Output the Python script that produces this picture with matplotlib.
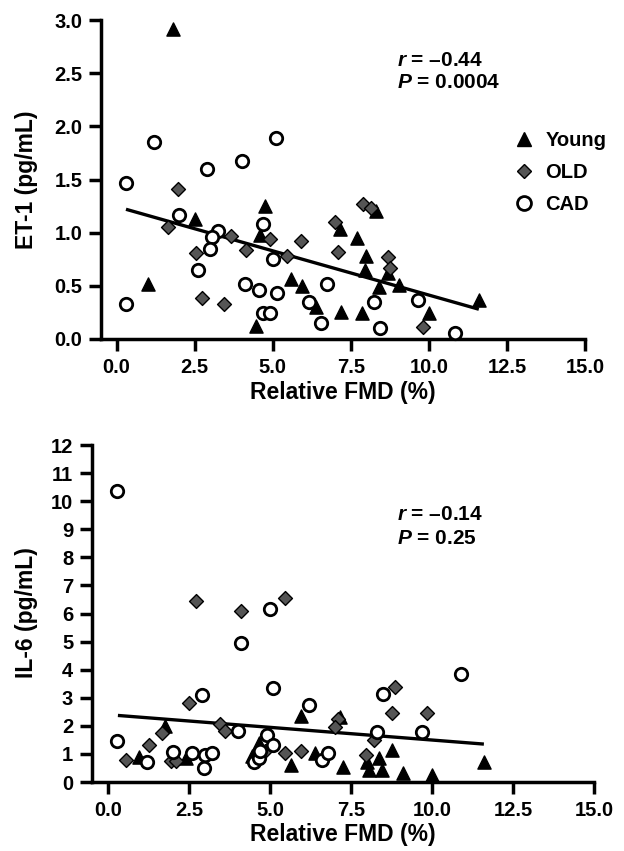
import matplotlib

matplotlib.use("Agg")
import matplotlib.pyplot as plt
from matplotlib.lines import Line2D

plt.rcParams["font.family"] = ["Liberation Sans", "DejaVu Sans"]
plt.rcParams["font.weight"] = "bold"
plt.rcParams["mathtext.fontset"] = "custom"
plt.rcParams["mathtext.it"] = "Liberation Sans:style=italic:weight=bold"
plt.rcParams["mathtext.rm"] = "Liberation Sans:weight=bold"

# ---------------------------------------------------------------------------
# Data
# ---------------------------------------------------------------------------

# ET-1 vs relative FMD
et1_young_x = [1.8, 1.0, 2.5, 4.75, 4.6, 4.45, 5.6, 5.95, 6.4, 7.2, 7.85, 7.15,
               7.7, 8.0, 7.95, 8.3, 8.4, 8.7, 9.05, 10.0, 11.6]
et1_young_y = [2.92, 0.52, 1.13, 1.25, 0.98, 0.12, 0.56, 0.50, 0.30, 0.25, 0.24, 1.03,
               0.95, 0.78, 0.65, 1.20, 0.49, 0.62, 0.51, 0.24, 0.37]
et1_old_x = [1.95, 1.65, 2.55, 2.75, 3.45, 3.65, 4.15, 4.9, 5.45, 5.9, 7.0, 7.1,
             7.9, 8.15, 8.7, 8.75, 9.8]
et1_old_y = [1.41, 1.05, 0.81, 0.39, 0.33, 0.97, 0.84, 0.94, 0.78, 0.92, 1.10, 0.82,
             1.27, 1.23, 0.77, 0.67, 0.11]
et1_cad_x = [0.3, 0.3, 1.2, 2.0, 2.9, 3.25, 3.05, 3.0, 2.6, 4.0, 5.1, 4.7, 5.0,
             4.1, 4.55, 5.15, 4.7, 4.9, 6.15, 6.55, 6.75, 8.25, 8.45, 9.65, 10.85]
et1_cad_y = [1.47, 0.33, 1.85, 1.17, 1.60, 1.02, 0.96, 0.85, 0.65, 1.67, 1.89, 1.08, 0.75,
             0.52, 0.46, 0.43, 0.24, 0.24, 0.35, 0.15, 0.52, 0.35, 0.10, 0.37, 0.06]
et1_fit_x = [0.3, 11.6]
et1_fit_y = [1.22, 0.28]

# IL-6 vs relative FMD
il6_young_x = [0.95, 1.75, 2.4, 4.45, 4.65, 5.65, 5.95, 6.4, 7.15, 7.25, 8.05, 8.0,
               8.35, 8.45, 8.75, 9.1, 10.0, 11.6]
il6_young_y = [0.9, 1.98, 0.85, 0.92, 1.38, 0.62, 2.35, 1.05, 2.3, 0.55, 0.43, 0.72,
               0.84, 0.43, 1.14, 0.31, 0.25, 0.7]
il6_old_x = [0.55, 1.25, 1.65, 1.95, 2.1, 2.7, 2.5, 3.45, 3.6, 4.1, 5.45, 5.45, 5.95,
             4.85, 7.1, 7.0, 8.2, 7.95, 8.85, 8.75, 9.85]
il6_old_y = [0.8, 1.32, 1.75, 0.75, 0.75, 6.45, 2.8, 2.05, 1.8, 6.1, 6.55, 1.02, 1.1,
             1.1, 2.25, 1.97, 1.5, 0.95, 3.4, 2.45, 2.45]
il6_cad_x = [0.27, 0.27, 1.2, 2.0, 2.6, 2.9, 3.0, 3.2, 2.95, 4.0, 4.1, 5.0, 5.1, 4.9,
             5.1, 4.5, 4.65, 4.7, 6.2, 6.6, 6.8, 8.3, 8.5, 9.7, 10.9]
il6_cad_y = [10.35, 1.45, 0.72, 1.08, 1.05, 3.1, 0.96, 1.02, 0.49, 1.82, 4.95, 6.15,
             3.35, 1.67, 1.32, 0.72, 0.85, 1.1, 2.75, 0.8, 1.02, 1.79, 3.15, 1.79, 3.85]
il6_fit_x = [0.3, 11.6]
il6_fit_y = [2.37, 1.35]

group_labels = ["Young", "OLD", "CAD"]
x_ticks = [0, 2.5, 5, 7.5, 10, 12.5, 15]
x_ticklabels = ["0.0", "2.5", "5.0", "7.5", "10.0", "12.5", "15.0"]
et1_ticks = [0, 0.5, 1.0, 1.5, 2.0, 2.5, 3.0]
et1_ticklabels = ["0.0", "0.5", "1.0", "1.5", "2.0", "2.5", "3.0"]
il6_ticks = list(range(0, 13))

# ---------------------------------------------------------------------------
# Styling
# ---------------------------------------------------------------------------

W, H = 624, 851
STYLES = {
    "Young": dict(marker="^", s=90, facecolor="black", edgecolor="black", linewidths=1.0),
    "OLD": dict(marker="D", s=50, facecolor="#555555", edgecolor="black", linewidths=1.0),
    "CAD": dict(marker="o", s=80, facecolor="white", edgecolor="black", linewidths=2.0),
}


def _px_axes(fig, left, right, top, bottom):
    return fig.add_axes([left / W, 1 - bottom / H, (right - left) / W, (bottom - top) / H])


def _style_axes(ax):
    for side in ("top", "right"):
        ax.spines[side].set_visible(False)
    for side in ("left", "bottom"):
        ax.spines[side].set_linewidth(2.5)
    ax.tick_params(width=2.5, length=8.5, labelsize=14.5, pad=5)
    for lab in ax.get_xticklabels() + ax.get_yticklabels():
        lab.set_fontweight("bold")


def _draw(ax, groups, fit_x, fit_y):
    ax.plot(fit_x, fit_y, color="black", lw=2.4, zorder=2, solid_capstyle="butt")
    for label, (xs, ys) in zip(group_labels, groups):
        ax.scatter(xs, ys, zorder=3, clip_on=False, **STYLES[label])


fig = plt.figure(figsize=(W / 100, H / 100), dpi=100)

# --- top panel: ET-1 ---
ax1 = _px_axes(fig, 101, 585, 20, 339)
_draw(ax1, [(et1_young_x, et1_young_y), (et1_old_x, et1_old_y), (et1_cad_x, et1_cad_y)],
      et1_fit_x, et1_fit_y)
ax1.set_xlim(-0.5, 15)
ax1.set_ylim(0, 3.0)
ax1.set_xticks(x_ticks)
ax1.set_xticklabels(x_ticklabels)
ax1.set_yticks(et1_ticks)
ax1.set_yticklabels(et1_ticklabels)
_style_axes(ax1)

# --- bottom panel: IL-6 ---
ax2 = _px_axes(fig, 92, 594, 445, 782)
_draw(ax2, [(il6_young_x, il6_young_y), (il6_old_x, il6_old_y), (il6_cad_x, il6_cad_y)],
      il6_fit_x, il6_fit_y)
ax2.set_xlim(-0.5, 15)
ax2.set_ylim(0, 12)
ax2.set_xticks(x_ticks)
ax2.set_xticklabels(x_ticklabels)
ax2.set_yticks(il6_ticks)
_style_axes(ax2)

# axis labels
lab_kw = dict(fontsize=16.5, fontweight="bold", ha="center", va="center")
fig.text(343 / W, 1 - 393 / H, "Relative FMD (%)", **lab_kw)
fig.text(343 / W, 1 - 835 / H, "Relative FMD (%)", **lab_kw)
fig.text(26 / W, 1 - 180 / H, "ET-1 (pg/mL)", rotation=90, **lab_kw)
fig.text(26 / W, 1 - 613 / H, "IL-6 (pg/mL)", rotation=90, **lab_kw)

# correlation annotations
ann_kw = dict(fontsize=15, fontweight="bold", ha="left", va="center")
fig.text(397 / W, 1 - 60 / H, "$r$ = \u20130.44", **ann_kw)
fig.text(397 / W, 1 - 83 / H, "$P$ = 0.0004", **ann_kw)
fig.text(397 / W, 1 - 515 / H, "$r$ = \u20130.14", **ann_kw)
fig.text(397 / W, 1 - 539 / H, "$P$ = 0.25", **ann_kw)

# legend
handles = [
    Line2D([], [], ls="none", marker="^", ms=10.5, mfc="black", mec="black"),
    Line2D([], [], ls="none", marker="D", ms=7.5, mfc="#555555", mec="black"),
    Line2D([], [], ls="none", marker="o", ms=10, mfc="white", mec="black", mew=2.0),
]
fig.legend(handles, group_labels, loc="upper left",
           bbox_to_anchor=(504 / W, 1 - 121 / H), frameon=False,
           prop=dict(size=14.5, weight="bold"), handlelength=1.0,
           handletextpad=0.55, labelspacing=0.65, borderpad=0)

fig.savefig("out.png", dpi=100)
